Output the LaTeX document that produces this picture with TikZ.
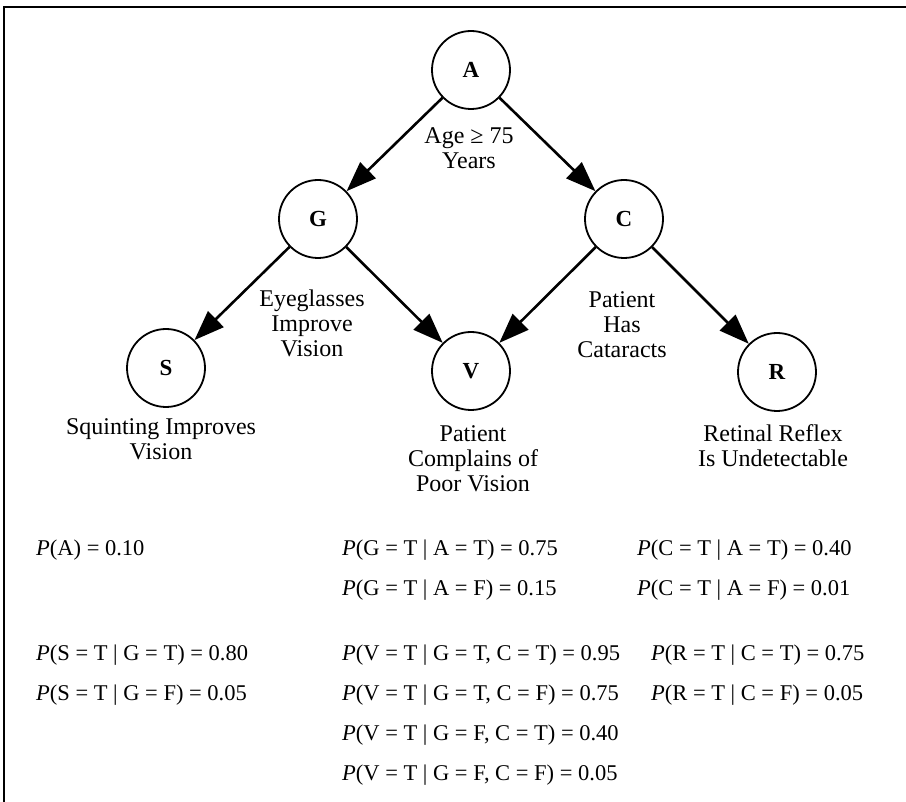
\documentclass[tikz,border=0pt]{standalone}
\usepackage{fontspec}
\setmainfont{Liberation Serif}
\usetikzlibrary{arrows.meta}
\begin{document}
\begin{tikzpicture}[x=1pt,y=-1pt,
  var/.style={circle, draw, line width=1.8pt, minimum size=78pt, inner sep=0pt, font=\fontsize{23}{26}\selectfont\bfseries},
  edge/.style={line width=2.6pt, -{Triangle[length=30pt,width=22pt]}},
  lbl/.style={align=center, font=\fontsize{24}{25}\selectfont, inner sep=0pt},
  prob/.style={anchor=west, font=\fontsize{22.5}{24}\selectfont, inner sep=0pt}]
\useasboundingbox (0,0) rectangle (906,802);
\draw[line width=1.4pt] (906,7) -- (4,7) -- (4,802);

\node[var] (A) at (471,70) {A};
\node[var] (G) at (318,219) {G};
\node[var] (C) at (624,219) {C};
\node[var] (S) at (166,368) {S};
\node[var] (V) at (471,371) {V};
\node[var] (R) at (777,372) {R};

\draw[edge] (A) -- (G);
\draw[edge] (A) -- (C);
\draw[edge] (G) -- (S);
\draw[edge] (G) -- (V);
\draw[edge] (C) -- (V);
\draw[edge] (C) -- (R);

\node[lbl] (lA) at (469,148) {Age ≥ 75\\Years};
\node[lbl] (lG) at (312,323) {Eyeglasses\\Improve\\Vision};
\node[lbl] (lC) at (622,325) {Patient\\Has\\Cataracts};
\node[lbl] (lS) at (161,439) {Squinting Improves\\Vision};
\node[lbl] (lV) at (473,459) {Patient\\Complains of\\Poor Vision};
\node[lbl] (lR) at (773,446) {Retinal Reflex\\Is Undetectable};

\node[prob] (pA) at (36,550) {\textit{P}(A) = 0.10};
\node[prob] (pG1) at (342,550) {\textit{P}(G = T | A = T) = 0.75};
\node[prob] (pG2) at (342,590) {\textit{P}(G = T | A = F) = 0.15};
\node[prob] (pC1) at (637,550) {\textit{P}(C = T | A = T) = 0.40};
\node[prob] (pC2) at (637,590) {\textit{P}(C = T | A = F) = 0.01};
\node[prob] (pS1) at (36,655) {\textit{P}(S = T | G = T) = 0.80};
\node[prob] (pS2) at (36,695) {\textit{P}(S = T | G = F) = 0.05};
\node[prob] (pV1) at (342,655) {\textit{P}(V = T | G = T, C = T) = 0.95};
\node[prob] (pV2) at (342,695) {\textit{P}(V = T | G = T, C = F) = 0.75};
\node[prob] (pV3) at (342,735) {\textit{P}(V = T | G = F, C = T) = 0.40};
\node[prob] (pV4) at (342,775) {\textit{P}(V = T | G = F, C = F) = 0.05};
\node[prob] (pR1) at (651,655) {\textit{P}(R = T | C = T) = 0.75};
\node[prob] (pR2) at (651,695) {\textit{P}(R = T | C = F) = 0.05};
\end{tikzpicture}
\end{document}
